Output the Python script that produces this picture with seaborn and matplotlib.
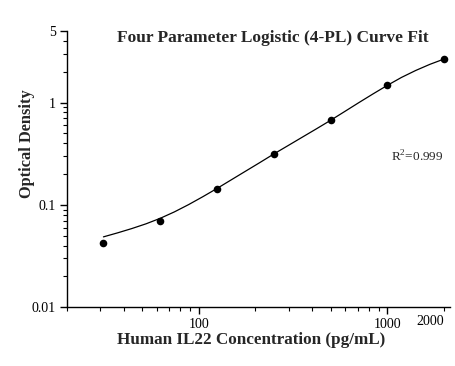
import matplotlib
matplotlib.use('Agg')
import matplotlib.pyplot as plt
import seaborn as sns
import pandas as pd
from matplotlib.ticker import FixedLocator, NullFormatter, FixedFormatter

# standards (pg/mL) and measured optical density
conc = [31.25, 62.5, 125, 250, 500, 1000, 2000]
od = [0.042, 0.070, 0.144, 0.314, 0.67, 1.47, 2.67]

# fitted 4-PL curve at quarter-doubling steps
curve_x = [31.25, 37.16, 44.19, 52.56, 62.5, 74.33, 88.39, 105.1, 125,
           148.7, 176.8, 210.2, 250, 297.3, 353.6, 420.4, 500,
           594.6, 707.1, 840.9, 1000, 1189, 1414, 1682, 2000]
curve_y = [0.0486, 0.0532, 0.0586, 0.0652, 0.0738, 0.0853, 0.1005, 0.120, 0.1445,
           0.1754, 0.2128, 0.258, 0.314, 0.379, 0.458, 0.553, 0.670,
           0.818, 1.0, 1.217, 1.473, 1.762, 2.06, 2.366, 2.667]

x_major = [100, 1000]
x_major_labels = ['100', '1000']
x_minor = [20, 30, 40, 50, 60, 70, 80, 90, 200, 300, 400, 500, 600, 700, 800, 900, 2000]
y_major = [0.01, 0.1, 1, 5]
y_major_labels = ['0.01', '0.1', '1', '5']
y_minor = [0.02, 0.03, 0.04, 0.05, 0.06, 0.07, 0.08, 0.09,
           0.2, 0.3, 0.4, 0.5, 0.6, 0.7, 0.8, 0.9, 2, 3, 4]

TITLE = 'Four Parameter Logistic (4-PL) Curve Fit'
XLABEL = 'Human IL22 Concentration (pg/mL)'
YLABEL = 'Optical Density'
R2_TEXT = 'R$^2$=0.999'


def main():
    sns.set_style('ticks')
    plt.rcParams['font.family'] = ['Liberation Serif', 'DejaVu Serif']
    plt.rcParams['mathtext.fontset'] = 'custom'
    plt.rcParams['mathtext.rm'] = 'Liberation Serif'

    pts = pd.DataFrame({'conc': conc, 'od': od})
    fit = pd.DataFrame({'conc': curve_x, 'od': curve_y})

    fig = plt.figure(figsize=(4.55, 3.66), dpi=100)
    ax = fig.add_axes([0.147, 0.161, 0.842, 0.754])
    sns.lineplot(data=fit, x='conc', y='od', ax=ax, color='black', linewidth=0.9)
    sns.scatterplot(data=pts, x='conc', y='od', ax=ax, color='black', s=30,
                    edgecolor='black', linewidth=0, zorder=3)

    ax.set_xscale('log')
    ax.set_yscale('log')
    ax.set_xlim(20, 2150)
    ax.set_ylim(0.01, 5)
    sns.despine(ax=ax)
    for sp in ('left', 'bottom'):
        ax.spines[sp].set_linewidth(1.0)
        ax.spines[sp].set_color('black')

    ax.xaxis.set_major_locator(FixedLocator(x_major))
    ax.xaxis.set_major_formatter(FixedFormatter(x_major_labels))
    ax.xaxis.set_minor_locator(FixedLocator(x_minor))
    ax.xaxis.set_minor_formatter(FixedFormatter(
        ['2000' if v == 2000 else '' for v in x_minor]))
    ax.yaxis.set_major_locator(FixedLocator(y_major))
    ax.yaxis.set_major_formatter(FixedFormatter(y_major_labels))
    ax.yaxis.set_minor_locator(FixedLocator(y_minor))
    ax.yaxis.set_minor_formatter(NullFormatter())

    ax.tick_params(which='major', direction='out', length=5, width=1,
                   labelsize=10, colors='black', pad=3)
    ax.tick_params(which='minor', direction='out', length=3, width=0.8,
                   labelsize=10, colors='black', pad=3)

    # the 2000 label ends at its tick rather than centring on it
    fig.canvas.draw()
    for lbl in ax.get_xticklabels(minor=True):
        if lbl.get_text() == '2000':
            lbl.set_horizontalalignment('right')

    ax.set_xlabel(XLABEL, fontsize=12.3, fontweight='bold')
    ax.xaxis.set_label_coords(0.48, -0.09)
    ax.set_ylabel(YLABEL, fontsize=11.8, fontweight='bold')
    ax.yaxis.set_label_coords(-0.084, 0.592)
    fig.text(0.599, 0.896, TITLE, fontsize=12.5, fontweight='bold',
             ha='center', va='center')
    fig.text(0.86, 0.571, R2_TEXT, fontsize=9.5, ha='left', va='center')

    fig.savefig('out.png', dpi=100, facecolor='white')


if __name__ == '__main__':
    main()
